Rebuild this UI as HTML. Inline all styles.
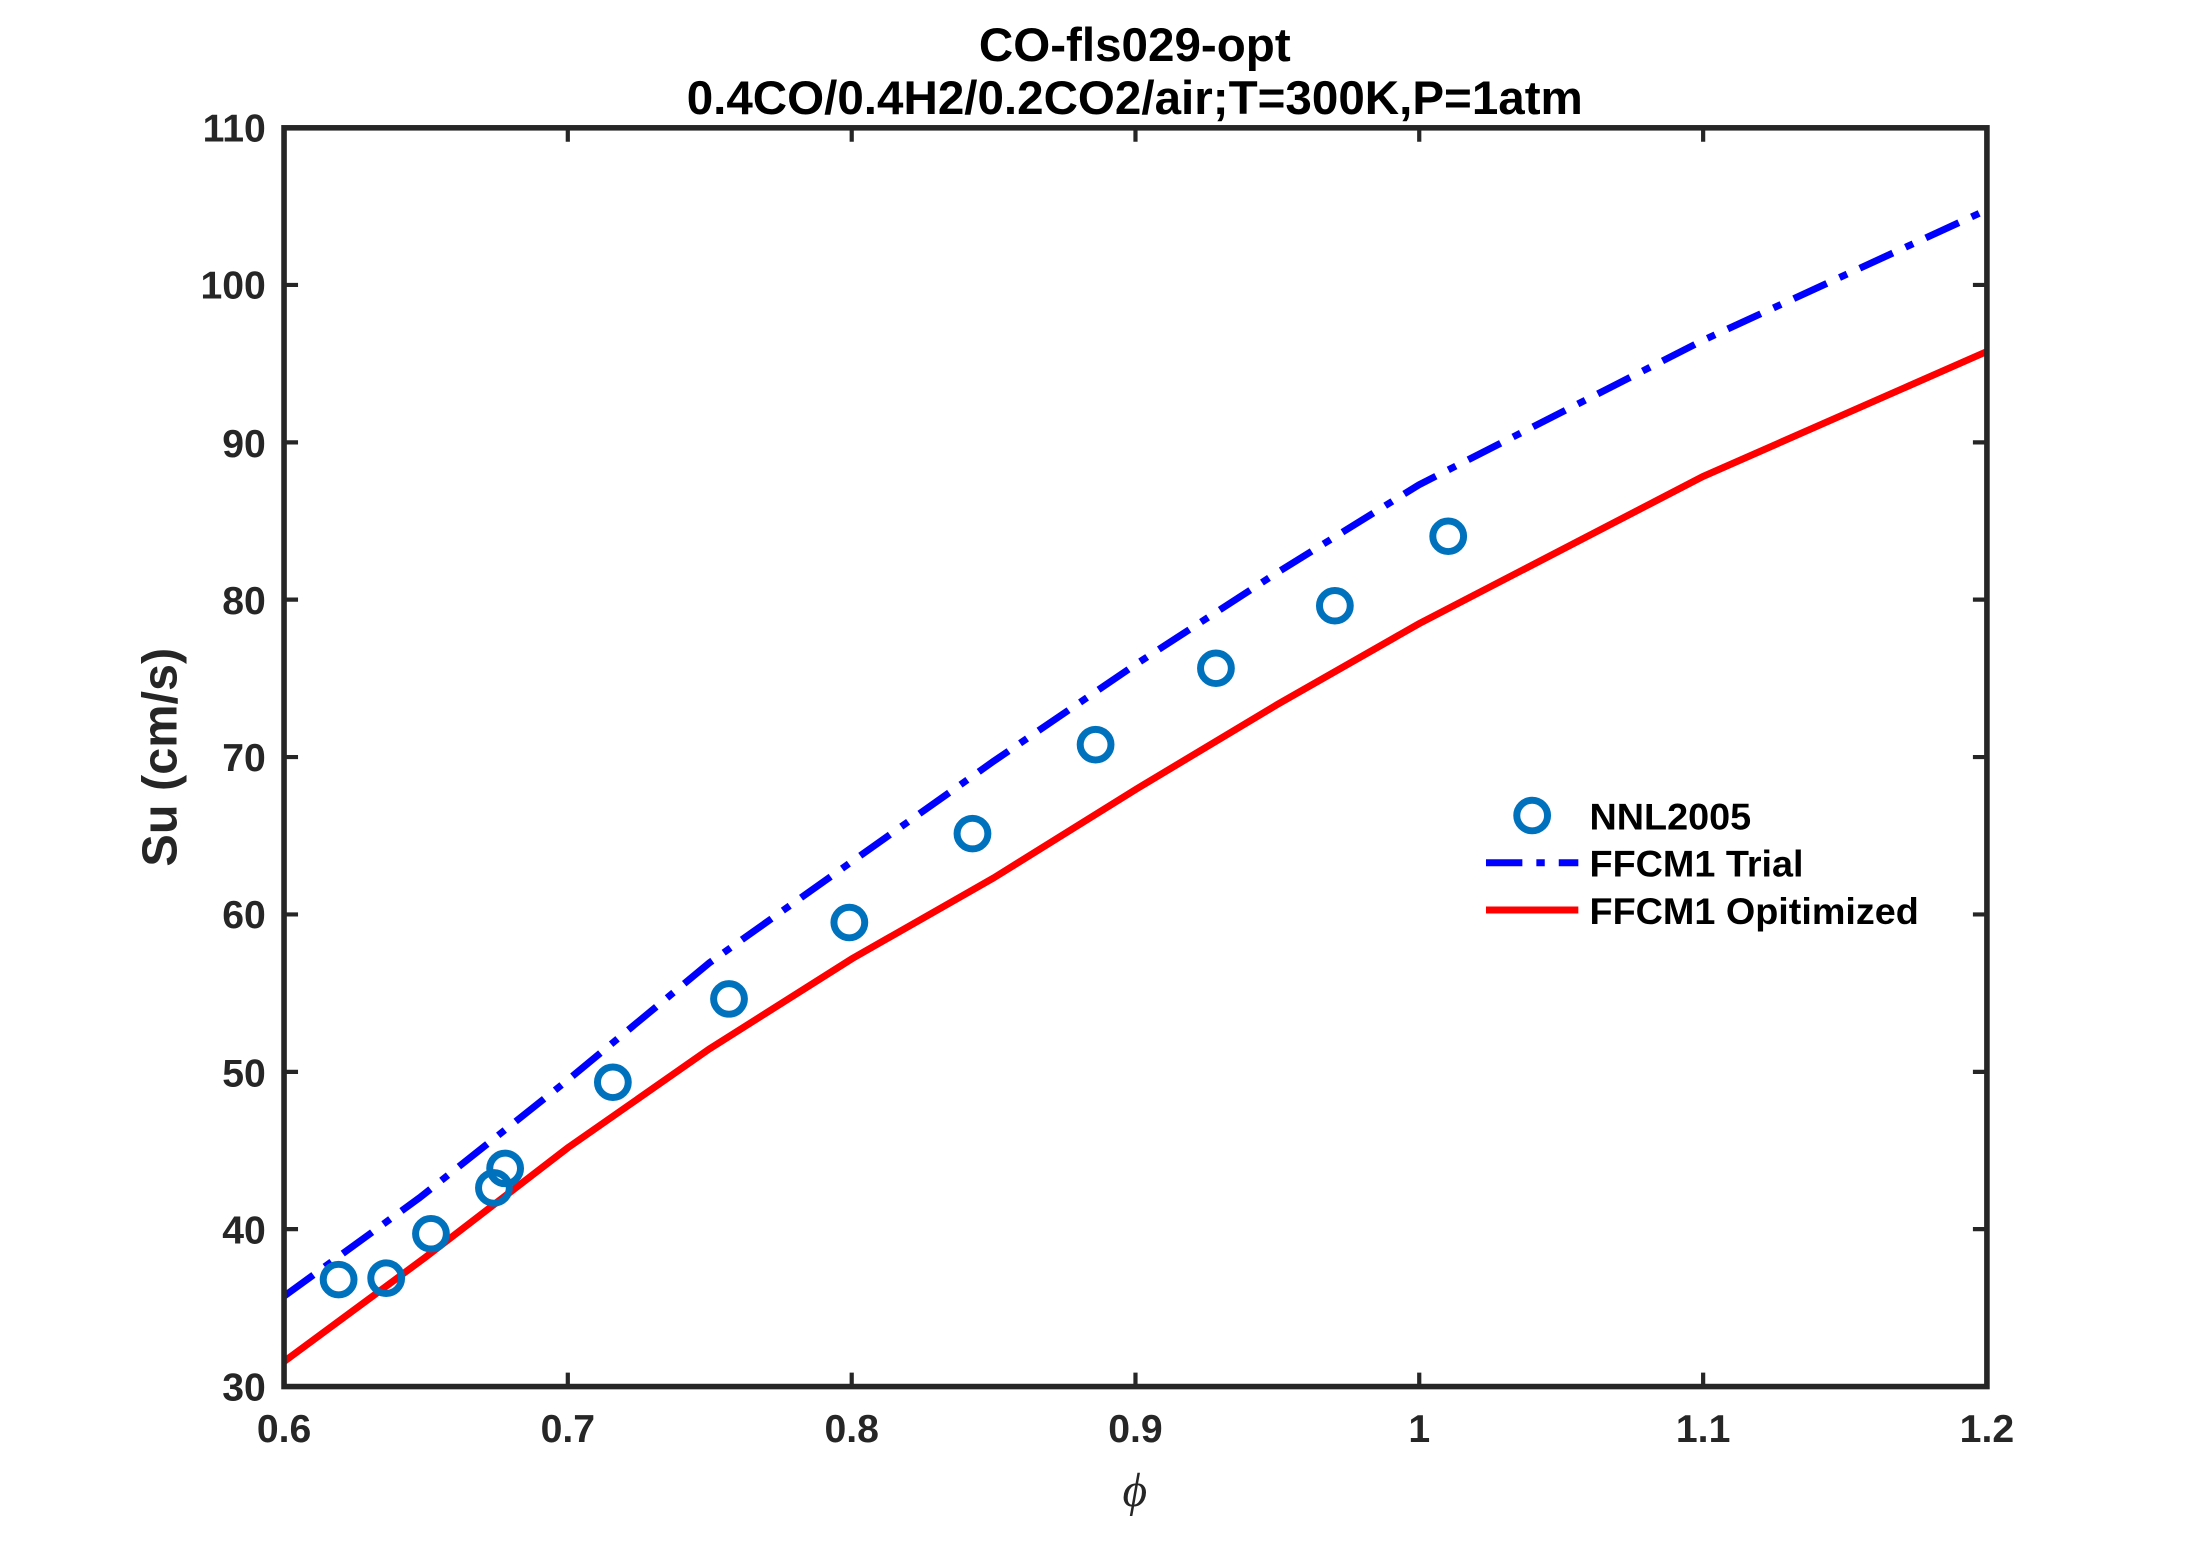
<!DOCTYPE html>
<html><head><meta charset="utf-8"><style>
html,body{margin:0;padding:0;background:#fff;}
svg{display:block;}
text{font-family:"Liberation Sans",Arial,sans-serif;font-weight:bold;fill:#262626;}
</style></head><body>
<svg width="2187" height="1563" viewBox="0 0 1563 1125" preserveAspectRatio="none" xmlns="http://www.w3.org/2000/svg">
<rect width="1563" height="1125" fill="#fff"/>
<text x="811" y="44" font-size="34" text-anchor="middle" style="fill:#000">CO-fls029-opt</text>
<text x="811" y="82" font-size="34" text-anchor="middle" style="fill:#000">0.4CO/0.4H2/0.2CO2/air;T=300K,P=1atm</text>
<g stroke="#262626" stroke-width="3">
<path d="M405.8,92v10M608.7,92v10M811.5,92v10M1014.3,92v10M1217.2,92v10M405.8,998v-10M608.7,998v-10M811.5,998v-10M1014.3,998v-10M1217.2,998v-10"/>
<path d="M203,884.7h10M203,771.5h10M203,658.2h10M203,544.9h10M203,431.6h10M203,318.4h10M203,205.1h10M1420,884.7h-10M1420,771.5h-10M1420,658.2h-10M1420,544.9h-10M1420,431.6h-10M1420,318.4h-10M1420,205.1h-10"/>
</g>
<polyline fill="none" stroke="#0000ff" stroke-width="5" stroke-dasharray="26,10,6,10" points="203,933 300,862 405,778 507,693 609,620 710,548 812,478 913,412 1014,349 1217,245 1420,151"/>
<polyline fill="none" stroke="#ff0000" stroke-width="5" points="203,980 304,905 406,826 507,755 609,690 710,632 812,568 913,507 1014,449 1217,343 1420,253"/>
<g fill="none" stroke="#0072BD" stroke-width="5">
<circle cx="242" cy="921" r="11"/><circle cx="276" cy="920" r="11"/><circle cx="308" cy="888" r="11"/><circle cx="353" cy="855" r="11"/><circle cx="361" cy="841" r="11"/><circle cx="438" cy="779" r="11"/><circle cx="521" cy="719" r="11"/><circle cx="607" cy="664" r="11"/><circle cx="695" cy="600" r="11"/><circle cx="783" cy="536" r="11"/><circle cx="869" cy="481" r="11"/><circle cx="954" cy="436" r="11"/><circle cx="1035" cy="386" r="11"/>
<circle cx="1095" cy="587" r="11"/>
</g>
<rect x="203" y="92" width="1217" height="906" fill="none" stroke="#262626" stroke-width="4"/>
<line x1="1062" y1="621" x2="1128" y2="621" stroke="#0000ff" stroke-width="5" stroke-dasharray="26,10,6,10"/>
<line x1="1062" y1="655" x2="1128" y2="655" stroke="#ff0000" stroke-width="5"/>
<text x="1136" y="597" font-size="27" style="fill:#000">NNL2005</text>
<text x="1136" y="631" font-size="27" style="fill:#000">FFCM1 Trial</text>
<text x="1136" y="665" font-size="27" style="fill:#000">FFCM1 Opitimized</text>
<g font-size="28" text-anchor="middle">
<text x="203" y="1038">0.6</text><text x="405.8" y="1038">0.7</text><text x="608.7" y="1038">0.8</text><text x="811.5" y="1038">0.9</text><text x="1014.3" y="1038">1</text><text x="1217.2" y="1038">1.1</text><text x="1420" y="1038">1.2</text>
</g>
<g font-size="28" text-anchor="end">
<text x="190" y="1008">30</text><text x="190" y="895">40</text><text x="190" y="782">50</text><text x="190" y="668">60</text><text x="190" y="555">70</text><text x="190" y="442">80</text><text x="190" y="329">90</text><text x="190" y="215">100</text><text x="190" y="102">110</text>
</g>
<text x="811" y="1084" font-size="34" text-anchor="middle" style="font-family:'Liberation Serif',serif;font-style:italic;font-weight:normal;fill:#262626">ϕ</text>
<text transform="translate(126,545) rotate(-90)" font-size="35" text-anchor="middle">Su (cm/s)</text>
</svg>
</body></html>
